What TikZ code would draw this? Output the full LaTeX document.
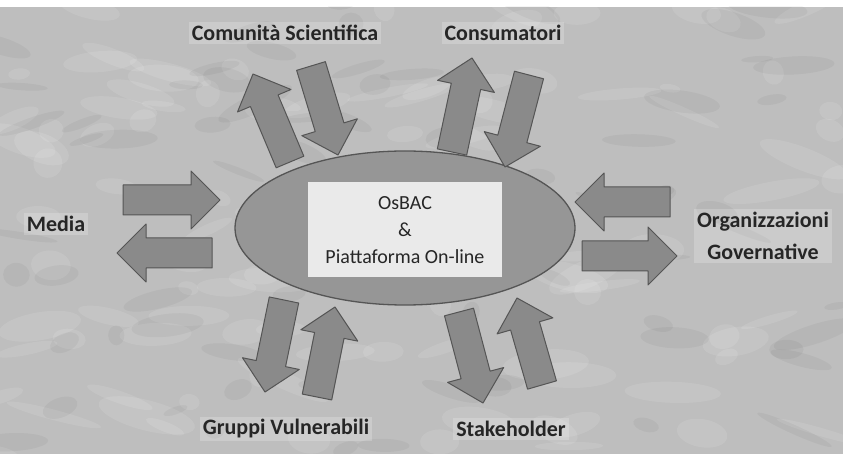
\documentclass[tikz,border=0pt]{standalone}
\usepackage{fontspec}
\setmainfont{Carlito}
\usetikzlibrary{calc, shapes.geometric, positioning}
\definecolor{marble}{RGB}{190,190,190}
\definecolor{arrowfill}{RGB}{138,138,138}
\definecolor{arrowline}{RGB}{85,85,85}
\definecolor{corefill}{RGB}{150,150,150}
\definecolor{boxfill}{RGB}{234,234,234}

% block arrow from tail #1 to tip #2
\def\shafthalf{15pt}
\def\headhalf{29pt}
\def\headlen{29pt}
\newcommand{\flowarrow}[2]{%
  \path ($(#2)!\headlen!(#1)$) coordinate (hb);
  \filldraw[arrowbody] ($(#1)!\shafthalf!90:(#2)$) -- ($(hb)!\shafthalf!-90:(#1)$)
    -- ($(hb)!\headhalf!-90:(#1)$) -- (#2) -- ($(hb)!\headhalf!90:(#1)$)
    -- ($(hb)!\shafthalf!90:(#1)$) -- ($(#1)!\shafthalf!-90:(#2)$) -- cycle;
}

\begin{document}
\begin{tikzpicture}[x=1pt, y=-1pt, line join=round,
    tag/.style={font=\fontsize{22}{32}\selectfont\bfseries, align=center, text=black!85,
      fill=white, fill opacity=0.2, text opacity=1, inner sep=3pt},
    arrowbody/.style={fill=arrowfill, draw=arrowline, line width=1pt}]
    \useasboundingbox (0,0) rectangle (843,454);
    \fill [white] (0,0) rectangle (843,454);
    \fill [marble] (0,7) rectangle (843,454);
    %\draw [step=50, very thin, lightgray] (0,0) grid (843,454);
    \begin{scope}
        \clip (0,7) rectangle (843,454);
        \pgfmathsetseed{11}
        \foreach \i in {1,...,110}{
            \pgfmathsetmacro\bx{rnd*843}
            \pgfmathsetmacro\by{rnd*454}
            \pgfmathsetmacro\rx{10+rnd*40}
            \pgfmathsetmacro\ry{4+rnd*12}
            \fill [white, opacity=0.1, rotate around={-25+rnd*50:(\bx,\by)}] (\bx,\by) ellipse [x radius=\rx pt, y radius=\ry pt];
        }
        \foreach \i in {1,...,80}{
            \pgfmathsetmacro\bx{rnd*843}
            \pgfmathsetmacro\by{rnd*454}
            \pgfmathsetmacro\rx{8+rnd*35}
            \pgfmathsetmacro\ry{3+rnd*9}
            \fill [black, opacity=0.04, rotate around={-25+rnd*50:(\bx,\by)}] (\bx,\by) ellipse [x radius=\rx pt, y radius=\ry pt];
        }
    \end{scope}

    \node [ellipse, fill=corefill, draw=arrowline, line width=1.3pt, minimum width=340pt, minimum height=154pt, inner sep=0] (core) at (405,228) {};
    \node [fill=boxfill, minimum width=194pt, minimum height=95pt, inner sep=0, align=center, font=\fontsize{20}{27}\selectfont, text=black!85] (osbac) at (405,230) {OsBAC\\\&\\Piattaforma On-line};

    \node [tag] (comsci) at (285,33) {Comunità Scientifica};
    \node [tag] (consum) at (503,33) {Consumatori};
    \node [tag] (media) at (56,224) {Media};
    \node [tag] (orggov) at (763,236) {Organizzazioni\\Governative};
    \node [tag] (gruppi) at (286,429) {Gruppi Vulnerabili};
    \node [tag] (stake) at (511,429) {Stakeholder};

    \coordinate (cs-out-a) at (290,162); \coordinate (cs-out-b) at (253,74);
    \coordinate (cs-in-a) at (311,66);   \coordinate (cs-in-b) at (338,155);
    \coordinate (co-out-a) at (452,152); \coordinate (co-out-b) at (472,58);
    \coordinate (co-in-a) at (529,75);   \coordinate (co-in-b) at (505,167);
    \coordinate (me-in-a) at (123,200);  \coordinate (me-in-b) at (220,200);
    \coordinate (me-out-a) at (212,253); \coordinate (me-out-b) at (117,253);
    \coordinate (og-in-a) at (670,202);  \coordinate (og-in-b) at (575,202);
    \coordinate (og-out-a) at (582,256); \coordinate (og-out-b) at (677,256);
    \coordinate (gv-out-a) at (284,300); \coordinate (gv-out-b) at (265,392);
    \coordinate (gv-in-a) at (317,397);  \coordinate (gv-in-b) at (335,307);
    \coordinate (sh-out-a) at (459,312); \coordinate (sh-out-b) at (483,403);
    \coordinate (sh-in-a) at (542,385);  \coordinate (sh-in-b) at (517,298);

    \flowarrow{cs-out-a}{cs-out-b}
    \flowarrow{cs-in-a}{cs-in-b}
    \flowarrow{co-out-a}{co-out-b}
    \flowarrow{co-in-a}{co-in-b}
    \flowarrow{me-in-a}{me-in-b}
    \flowarrow{me-out-a}{me-out-b}
    \flowarrow{og-in-a}{og-in-b}
    \flowarrow{og-out-a}{og-out-b}
    \flowarrow{gv-out-a}{gv-out-b}
    \flowarrow{gv-in-a}{gv-in-b}
    \flowarrow{sh-out-a}{sh-out-b}
    \flowarrow{sh-in-a}{sh-in-b}
\end{tikzpicture}
\end{document}
